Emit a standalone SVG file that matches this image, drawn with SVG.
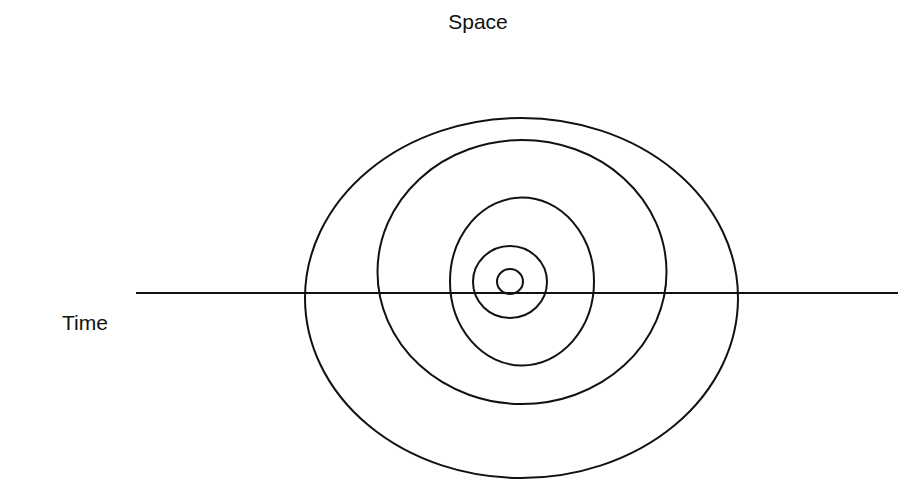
<svg xmlns="http://www.w3.org/2000/svg" width="906" height="480" viewBox="0 0 906 480">
<style>
.lbl{font-family:"Liberation Sans",Arial,sans-serif;font-size:21px;fill:#111}
.ring{fill:none;stroke:#111;stroke-width:2}
.axis{stroke:#111;stroke-width:2}
</style>
<rect width="906" height="480" fill="#fff"/>
<g id="labels">
<text class="lbl" x="478" y="29" text-anchor="middle">Space</text>
<text class="lbl" x="62" y="330">Time</text>
</g>
<g id="connectors">
<line class="axis" x1="136" y1="293" x2="898" y2="293"/>
</g>
<g id="rings">
<ellipse id="ring1" class="ring" cx="521.5" cy="298" rx="216.5" ry="180"/>
<ellipse id="ring2" class="ring" cx="522" cy="272" rx="144.5" ry="132"/>
<ellipse id="ring3" class="ring" cx="522" cy="281.5" rx="72" ry="84"/>
<ellipse id="ring4" class="ring" cx="510" cy="282" rx="37" ry="36"/>
<ellipse id="ring5" class="ring" cx="510" cy="281.5" rx="13" ry="12.5"/>
</g>
</svg>
